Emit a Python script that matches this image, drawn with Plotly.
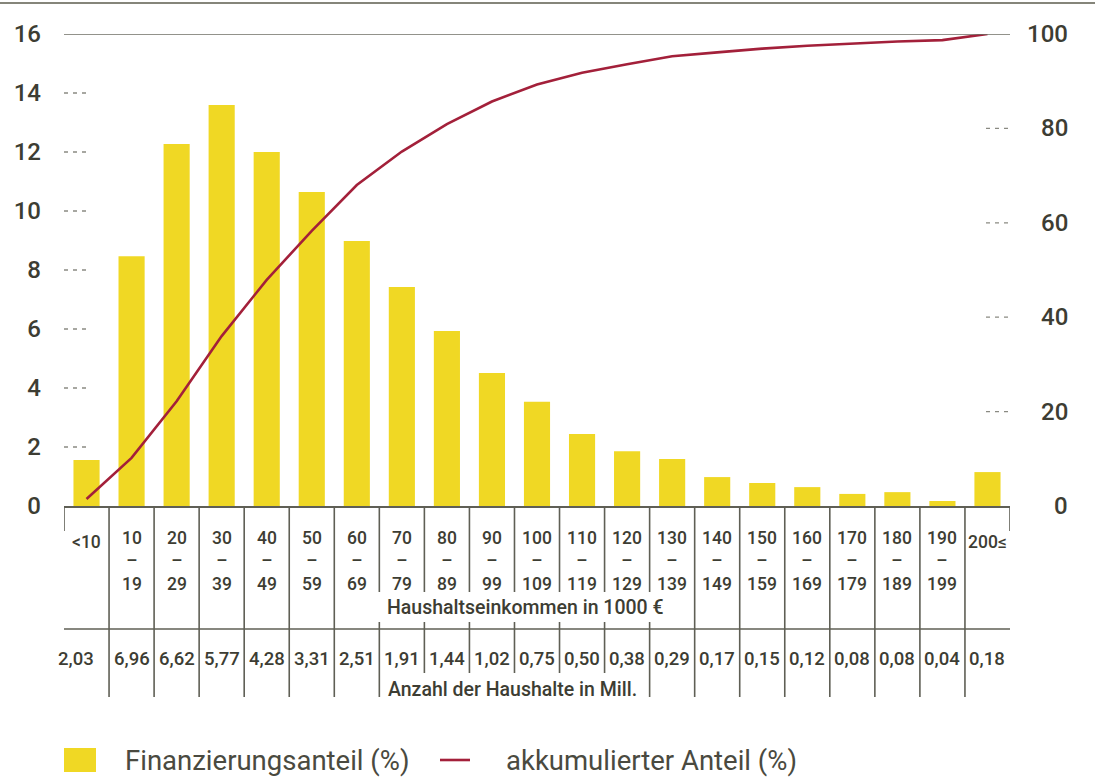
import plotly.graph_objects as go

# ---------------- data ----------------
income_lower = ["<10", "10", "20", "30", "40", "50", "60", "70", "80", "90", "100",
                "110", "120", "130", "140", "150", "160", "170", "180", "190", "200≤"]
income_upper = ["", "19", "29", "39", "49", "59", "69", "79", "89", "99", "109",
                "119", "129", "139", "149", "159", "169", "179", "189", "199", ""]
categories = [lo + ("–" + up if up else "") for lo, up in zip(income_lower, income_upper)]

financing_share = [1.56, 8.47, 12.27, 13.59, 12.0, 10.64, 8.98, 7.42, 5.93, 4.51, 3.53,
                   2.44, 1.86, 1.59, 0.98, 0.78, 0.64, 0.41, 0.47, 0.17, 1.15]
cumulative_share = [1.5, 10.2, 22.2, 36.0, 47.9, 58.3, 68.0, 75.1, 80.9, 85.7, 89.3,
                    91.8, 93.6, 95.3, 96.1, 96.9, 97.5, 98.0, 98.4, 98.7, 100.0]
households_mill = ["2,03", "6,96", "6,62", "5,77", "4,28", "3,31", "2,51", "1,91", "1,44",
                   "1,02", "0,75", "0,50", "0,38", "0,29", "0,17", "0,15", "0,12", "0,08",
                   "0,08", "0,04", "0,18"]

left_ticks = [0, 2, 4, 6, 8, 10, 12, 14, 16]
right_ticks = [0, 20, 40, 60, 80, 100]

# ---------------- style ----------------
W, H = 1095, 778
X0, X1 = 64, 1010          # plot area left / right (px)
YB, YT = 506, 34           # baseline / top (px)
YELLOW = "#F0D824"
RED = "#A3203A"
TXT = "#3D3D33"
LINE = "#5F5F55"
FONT = "Roboto, 'Open Sans', 'DejaVu Sans', sans-serif"


def px(x):
    return x / W


def py(y):
    return 1 - y / H


n = len(categories)

fig = go.Figure()
fig.add_trace(go.Bar(x=categories, y=financing_share, marker_color=YELLOW,
                     marker_line_width=0, name="Finanzierungsanteil (%)",
                     yaxis="y", showlegend=False))
fig.add_trace(go.Scatter(x=categories, y=cumulative_share, mode="lines",
                         line=dict(color=RED, width=2.6), name="akkumulierter Anteil (%)",
                         yaxis="y2", showlegend=False))

shapes = []
# top border
shapes.append(dict(type="line", xref="paper", yref="paper", x0=0, x1=1, y0=py(3), y1=py(3),
                   line=dict(color="#85857A", width=2)))
# top gridline at 16 / 100
shapes.append(dict(type="line", xref="paper", yref="y", x0=px(X0), x1=px(X1), y0=16, y1=16,
                   line=dict(color="#6E6E64", width=1.6)))
# dashed tick stubs left
for v in left_ticks:
    if 0 < v < 16:
        shapes.append(dict(type="line", xref="paper", yref="y", x0=px(64), x1=px(90), y0=v, y1=v,
                           line=dict(color="#8A8A82", width=1.3, dash="4px,5px")))
# dashed tick stubs right
for v in right_ticks:
    if 0 < v < 100:
        shapes.append(dict(type="line", xref="paper", yref="y2", x0=px(986), x1=px(1012), y0=v, y1=v,
                           line=dict(color="#8A8A82", width=1.3, dash="4px,5px")))

# table grid: vertical separators
for k in range(n + 1):
    xb = k - 0.5
    if k in (0, n):
        segs = [(506, 531)]
    elif 7 <= k <= 13:
        bottom = 697 if k in (7, 13) else 673
        segs = [(506, 592), (622, bottom)]
    else:
        segs = [(506, 697)]
    for a, b in segs:
        shapes.append(dict(type="line", xref="x", yref="paper", x0=xb, x1=xb, y0=py(a), y1=py(b),
                           line=dict(color=LINE, width=1.6)))
# horizontal separator between rows
shapes.append(dict(type="line", xref="paper", yref="paper", x0=px(X0), x1=px(X1),
                   y0=py(629), y1=py(629), line=dict(color=LINE, width=1.6)))

# legend (manual)
shapes.append(dict(type="rect", xref="paper", yref="paper", x0=px(64), x1=px(96),
                   y0=py(772), y1=py(748), fillcolor=YELLOW, line=dict(width=0)))
shapes.append(dict(type="line", xref="paper", yref="paper", x0=px(440), x1=px(470),
                   y0=py(760), y1=py(760), line=dict(color=RED, width=2.6)))

annotations = []
tfont = dict(family=FONT, size=17.5, color=TXT, weight=500)
for i, (lo, up) in enumerate(zip(income_lower, income_upper)):
    if up:
        annotations.append(dict(x=categories[i], y=py(561), xref="x", yref="paper",
                                text=lo + "<br>–<br>" + up, showarrow=False, font=tfont,
                                xanchor="center", yanchor="middle"))
    else:
        annotations.append(dict(x=categories[i], y=py(542), xref="x", yref="paper", text=lo,
                                showarrow=False, font=tfont, xanchor="center", yanchor="middle"))
    annotations.append(dict(x=categories[i], y=py(659), xref="x", yref="paper",
                            text=households_mill[i], showarrow=False,
                            font=dict(family=FONT, size=18.5, color=TXT, weight=500),
                            xanchor="center", yanchor="middle", xshift=-11 if i == 0 else 0))

annotations.append(dict(x=px(385), y=py(607), xref="paper", yref="paper",
                        text="Haushaltseinkommen in 1000 €", showarrow=False,
                        font=dict(family=FONT, size=19.5, color=TXT, weight=500),
                        xanchor="left", yanchor="middle"))
annotations.append(dict(x=px(386), y=py(689), xref="paper", yref="paper",
                        text="Anzahl der Haushalte in Mill.", showarrow=False,
                        font=dict(family=FONT, size=19.5, color=TXT, weight=500),
                        xanchor="left", yanchor="middle"))

# right axis labels
for v in right_ticks:
    annotations.append(dict(x=px(1070), y=v, xref="paper", yref="y2", text=str(v),
                            showarrow=False, font=dict(family=FONT, size=24, color=TXT, weight=500),
                            xanchor="right", yanchor="middle"))

# legend texts
lfont = dict(family=FONT, size=27.5, color="#4A4A40")
annotations.append(dict(x=px(123), y=py(760), xref="paper", yref="paper",
                        text="Finanzierungsanteil (%)", showarrow=False, font=lfont,
                        xanchor="left", yanchor="middle"))
annotations.append(dict(x=px(504), y=py(760), xref="paper", yref="paper",
                        text="akkumulierter Anteil (%)", showarrow=False, font=lfont,
                        xanchor="left", yanchor="middle"))

fig.update_layout(
    width=W, height=H,
    margin=dict(l=0, r=0, t=0, b=0),
    paper_bgcolor="white", plot_bgcolor="white",
    font=dict(family=FONT, color=TXT),
    bargap=0.42,
    showlegend=False,
    xaxis=dict(domain=[px(X0), px(X1)], type="category", range=[-0.5, n - 0.5],
               showticklabels=False, ticks="", showgrid=False, zeroline=False,
               showline=True, linecolor=LINE, linewidth=2, automargin=False, fixedrange=True),
    yaxis=dict(domain=[py(YB), py(YT)], range=[0, 16], tickvals=left_ticks,
               ticktext=[str(v) for v in left_ticks], ticks="", showgrid=False,
               zeroline=False, showline=False, ticklabelstandoff=22,
               tickfont=dict(family=FONT, size=24, color=TXT, weight=500), automargin=False),
    yaxis2=dict(overlaying="y", side="right", range=[0, 100], showticklabels=False,
                ticks="", showgrid=False, zeroline=False, showline=False, automargin=False),
    shapes=shapes,
    annotations=annotations,
)

fig.write_html("out.html", config={"displayModeBar": False},
               post_script="document.body.style.margin='0';document.body.style.overflow='hidden';")
